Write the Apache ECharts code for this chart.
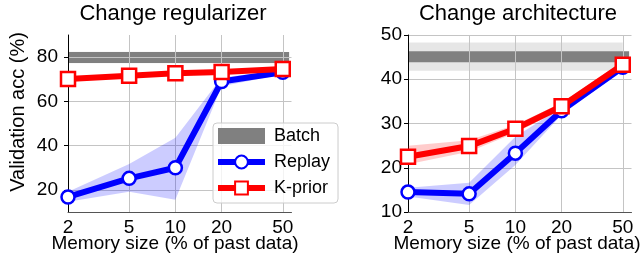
<!DOCTYPE html>
<html>
<head>
<meta charset="utf-8">
<script src="https://cdn.jsdelivr.net/npm/echarts@6/dist/echarts.min.js"></script>
<style>
  html, body { margin: 0; padding: 0; background: #fff; }
  #main { width: 642px; height: 260px; }
</style>
</head>
<body>
<div id="main"></div>
<script>
// memory sizes (% of past data), shared by both panels
var memory = [2, 5, 10, 20, 50];
var batchSpan = [2, 55];

// left panel: change regularizer
var regReplay = [16.8, 25.2, 30.0, 69.0, 73.2];
var regReplayLo = [14.6, 19.1, 15.5, 66.8, 72.3];
var regReplayHi = [19.1, 31.7, 43.6, 70.8, 74.2];
var regKprior = [70.1, 71.6, 72.7, 73.3, 74.6];
var regKpriorLo = [69.3, 70.9, 72.0, 72.6, 73.8];
var regKpriorHi = [70.9, 72.3, 73.4, 74.0, 75.4];
var regBatch = 79.8, regBatchStd = 2.6;
var regTicks = [20, 40, 60, 80];

// right panel: change architecture
var archReplay = [14.5, 14.1, 23.3, 32.9, 42.7];
var archReplayLo = [13.5, 11.6, 20.6, 32.0, 42.1];
var archReplayHi = [15.5, 16.6, 27.0, 33.7, 43.3];
var archKprior = [22.5, 24.9, 28.8, 33.9, 43.3];
var archKpriorLo = [20.8, 23.6, 27.9, 33.1, 42.5];
var archKpriorHi = [25.0, 26.2, 29.7, 34.7, 44.1];
var archBatch = 45.1, archBatchStd = 3.2;
var archTicks = [10, 20, 30, 40, 50];

var FONT = '"Liberation Sans", Arial, sans-serif';
var lx = function (v) { return Math.log10(v); };

var chart = echarts.init(document.getElementById('main'), null, { renderer: 'canvas' });

// filled band between lo and hi, one polygon per series
function band(name, idx, lo, hi, fill, z) {
    return {
        name: name, type: 'custom', xAxisIndex: idx, yAxisIndex: idx, z: z, silent: true,
        data: memory.map(function (m, i) { return [lx(m), lo[i], hi[i]]; }),
        encode: { x: 0, y: [1, 2] },
        renderItem: function (params, api) {
            if (params.dataIndex !== 0) return;
            var n = params.dataInsideLength, top = [], bot = [];
            for (var i = 0; i < n; i++) {
                top.push(api.coord([api.value(0, i), api.value(2, i)]));
                bot.unshift(api.coord([api.value(0, i), api.value(1, i)]));
            }
            return { type: 'polygon', shape: { points: top.concat(bot) }, style: { fill: fill } };
        }
    };
}

function curve(name, idx, vals, color, symbol, size) {
    return {
        name: name, type: 'line', xAxisIndex: idx, yAxisIndex: idx, z: 3,
        data: memory.map(function (m, i) { return [lx(m), vals[i]]; }),
        symbol: symbol, symbolSize: size, showAllSymbol: true,
        lineStyle: { color: color, width: 6 },
        itemStyle: { color: '#fff', borderColor: color, borderWidth: 2.5 },
        emphasis: { disabled: true }
    };
}

function batchLine(idx, mean) {
    return {
        name: 'Batch', type: 'line', xAxisIndex: idx, yAxisIndex: idx, z: -1, silent: true,
        data: batchSpan.map(function (m) { return [lx(m), mean]; }),
        symbol: 'none', lineStyle: { color: '#808080', width: 11 },
        itemStyle: { color: '#808080' }
    };
}

function xAxis(idx) {
    return {
        type: 'value', gridIndex: idx, min: lx(2), max: lx(57),
        axisLine: { lineStyle: { color: '#555', width: 1 } },
        axisTick: { show: false, customValues: memory.map(lx) },
        axisLabel: {
            customValues: memory.map(lx), margin: 6, color: '#000', fontSize: 19, fontFamily: FONT,
            formatter: function (v) { return Math.round(Math.pow(10, v)); }
        },
        splitLine: { show: true, lineStyle: { color: '#c4c4c4', width: 1 } }
    };
}

function yAxis(idx, min, max, ticks, margin) {
    return {
        type: 'value', gridIndex: idx, min: min, max: max,
        axisLine: { show: true, lineStyle: { color: '#000', width: 1 } },
        axisTick: { show: true, length: 4, customValues: ticks, lineStyle: { color: '#000' } },
        axisLabel: { customValues: ticks, margin: margin, color: '#000', fontSize: 19, fontFamily: FONT },
        splitLine: { show: true, lineStyle: { color: '#c4c4c4', width: 1 } }
    };
}

function label(text, x, y, size, rot) {
    return {
        type: 'text', x: x, y: y, rotation: rot || 0, z: 10,
        style: {
            text: text, font: size + 'px ' + FONT, fill: '#000',
            textAlign: 'center', textVerticalAlign: 'middle', align: 'center', verticalAlign: 'middle'
        }
    };
}

var option = {
    animation: false,
    grid: [
        { left: 68, top: 35, width: 223.5, height: 177 },
        { left: 408, top: 35, width: 223.5, height: 177 }
    ],
    xAxis: [xAxis(0), xAxis(1)],
    yAxis: [yAxis(0, 10, 90, regTicks, 10), yAxis(1, 10, 50, archTicks, 6)],
    graphic: [
        label('Change regularizer', 173, 14, 22),
        label('Change architecture', 518, 14, 22),
        label('Memory size (% of past data)', 175, 244, 19),
        label('Memory size (% of past data)', 517, 244, 19),
        label('Validation acc (%)', 18, 112, 20, Math.PI / 2)
    ],
    legend: {
        orient: 'vertical', left: 213, top: 123, z: 20,
        padding: [4, 8, 6, 2], itemGap: 8, itemWidth: 47, itemHeight: 16,
        backgroundColor: 'rgba(255,255,255,0.8)', borderColor: '#cccccc', borderWidth: 1, borderRadius: 4,
        textStyle: { fontSize: 18, fontFamily: FONT, color: '#000', padding: [0, 0, 0, 4] },
        lineStyle: { width: 6 },
        selectedMode: false,
        data: [
            {
                name: 'Batch', icon: 'rect', itemHeight: 12,
                itemStyle: { color: '#808080', borderWidth: 0 }
            },
            { name: 'Replay', lineStyle: { width: 6, color: '#0000ff' } },
            { name: 'K-prior', lineStyle: { width: 6, color: '#ff0000' } }
        ]
    },
    series: [
        batchLine(0, regBatch),
        band('Batch band L', 0, memory.map(function () { return regBatch - regBatchStd; }),
            memory.map(function () { return regBatch + regBatchStd; }), 'rgba(128,128,128,0.2)', -2),
        band('Replay band L', 0, regReplayLo, regReplayHi, 'rgba(0,0,255,0.2)', 1),
        band('K-prior band L', 0, regKpriorLo, regKpriorHi, 'rgba(255,0,0,0.2)', 1),
        curve('Replay', 0, regReplay, '#0000ff', 'circle', 13),
        curve('K-prior', 0, regKprior, '#ff0000', 'rect', 14),

        batchLine(1, archBatch),
        band('Batch band R', 1, memory.map(function () { return archBatch - archBatchStd; }),
            memory.map(function () { return archBatch + archBatchStd; }), 'rgba(128,128,128,0.2)', -2),
        band('Replay band R', 1, archReplayLo, archReplayHi, 'rgba(0,0,255,0.2)', 1),
        band('K-prior band R', 1, archKpriorLo, archKpriorHi, 'rgba(255,0,0,0.2)', 1),
        curve('Replay', 1, archReplay, '#0000ff', 'circle', 13),
        curve('K-prior', 1, archKprior, '#ff0000', 'rect', 14)
    ]
};

chart.setOption(option);
</script>
</body>
</html>
